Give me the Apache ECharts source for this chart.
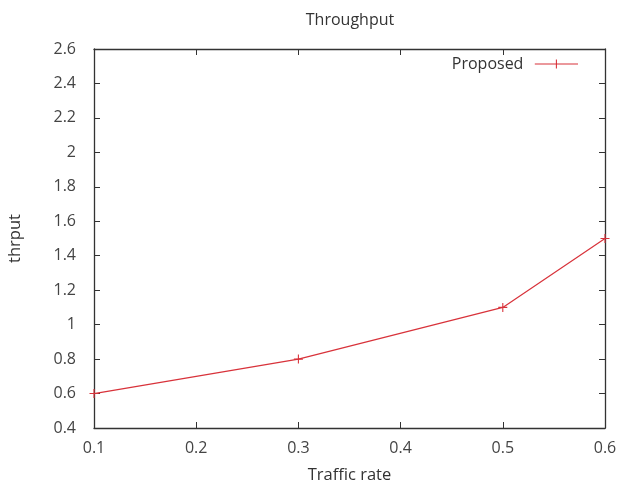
<!DOCTYPE html>
<html><head><meta charset="utf-8">
<script src="https://cdn.jsdelivr.net/npm/echarts@6/dist/echarts.min.js"></script>
<style>html,body{margin:0;padding:0;background:#fff}#c{width:617px;height:486px}</style>
</head><body><div id="c"></div>
<script>
const trafficRate = [0.1, 0.3, 0.5, 0.6];
const proposed = [0.6, 0.8, 1.1, 1.5];
const seriesName = 'Proposed';
const titleText = 'Throughput';
const xName = 'Traffic rate';
const yName = 'thrput';

const font = 'Open Sans';
const red = '#d8323a';
const plus = 'path://M0,4.4H10V5.6H0Z M4.4,0H5.6V10H4.4Z';
const axisLine = {show: true, lineStyle: {color: '#333', width: 1.3}};
const tick = {show: true, inside: true, length: 6, lineStyle: {color: '#333'}};
const lbl = {color: '#444', fontSize: 16, fontFamily: font};

const chart = echarts.init(document.getElementById('c'), null, {renderer: 'canvas'});
chart.setOption({
  animation: false,
  backgroundColor: '#fff',
  title: {text: titleText, left: 345, textAlign: 'center', top: 7,
    textStyle: {fontFamily: font, fontSize: 16, fontWeight: 'normal', color: '#333'}},
  legend: {right: 34, top: 51, itemWidth: 48, itemHeight: 9, align: 'right', itemGap: 10,
    icon: 'path://M0,4.4H48V5.6H0Z M23.4,0H24.6V10H23.4Z',
    textStyle: {fontFamily: font, fontSize: 16, color: '#333', padding: [0, 4, 0, 0]},
    data: [seriesName]},
  grid: {left: 94, right: 12, top: 49, bottom: 58, containLabel: false, outerBoundsMode: 'none'},
  xAxis: [
    {type: 'value', min: 0.1, max: 0.6, interval: 0.1, position: 'bottom',
     name: xName, nameLocation: 'middle', nameGap: 39,
     nameTextStyle: {fontFamily: font, fontSize: 16.5, color: '#333'},
     axisLine: axisLine, axisTick: tick, splitLine: {show: false},
     axisLabel: Object.assign({margin: 12, formatter: v => String(+v.toFixed(1))}, lbl)},
    {type: 'value', min: 0.1, max: 0.6, interval: 0.1, position: 'top',
     axisLine: axisLine, axisTick: tick, splitLine: {show: false}, axisLabel: {show: false}}
  ],
  yAxis: [
    {type: 'value', min: 0.4, max: 2.6, interval: 0.2, position: 'left',
     name: yName, nameLocation: 'middle', nameGap: 70, nameRotate: 90,
     nameTextStyle: {fontFamily: font, fontSize: 16.5, color: '#333'},
     axisLine: axisLine, axisTick: tick, splitLine: {show: false},
     axisLabel: Object.assign({margin: 18, formatter: v => String(+v.toFixed(1))}, lbl)},
    {type: 'value', min: 0.4, max: 2.6, interval: 0.2, position: 'right',
     axisLine: axisLine, axisTick: tick, splitLine: {show: false}, axisLabel: {show: false}}
  ],
  series: [{
    name: seriesName, type: 'line', xAxisIndex: 0, yAxisIndex: 0,
    data: trafficRate.map((x, i) => [x, proposed[i]]),
    symbol: plus, symbolSize: 9, showAllSymbol: true,
    lineStyle: {color: red, width: 1.2},
    itemStyle: {color: red},
    clip: false
  }]
});
</script></body></html>
